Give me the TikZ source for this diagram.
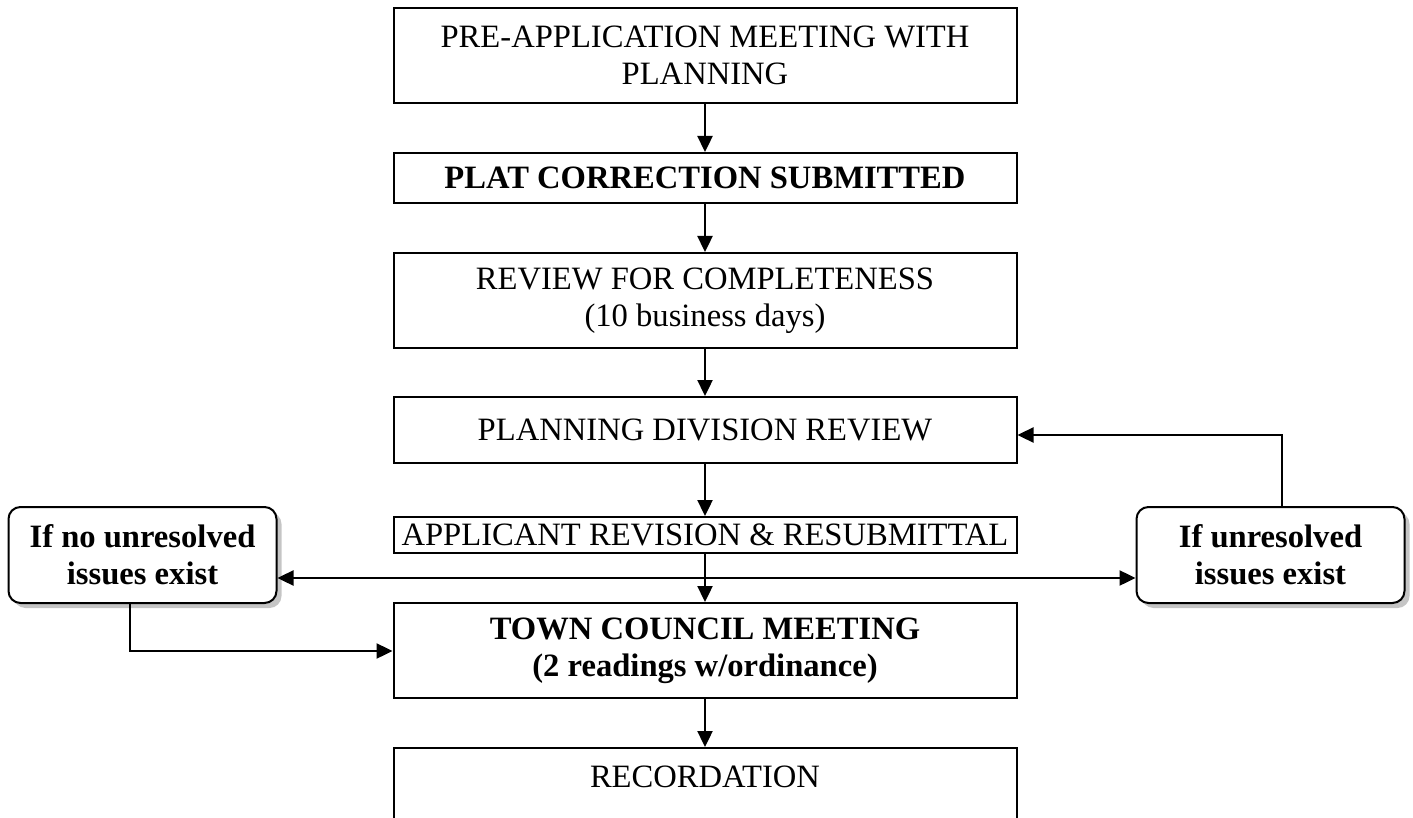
\documentclass[tikz,border=0pt]{standalone}
\usepackage{fontspec}
\setmainfont{Liberation Serif}
\usetikzlibrary{arrows.meta, shadows}

\tikzset{
    stepbox/.style={draw, line width=1pt, fill=white, inner sep=0pt,
        minimum width=311.5pt, align=center},
    sidebox/.style={draw, line width=1pt, fill=white, inner sep=0pt,
        rounded corners=6pt, minimum width=134pt, minimum height=48pt,
        align=center, font=\bfseries,
        drop shadow={shadow xshift=2.5pt, shadow yshift=-2.5pt, fill=black!45}},
    flow/.style={line width=1.2pt, -{Triangle[length=8pt,width=7.5pt]}}
}

\begin{document}
\begin{tikzpicture}[x=0.5pt, y=-0.5pt]
            \fontsize{16.3}{18.5}\selectfont
            \useasboundingbox (0,0) rectangle (1413,818);

            % main column
            \node[stepbox, minimum height=47.5pt] (preapp) at (705,55.5)
                {PRE-APPLICATION MEETING WITH\\PLANNING};
            \node[stepbox, minimum height=25pt, font=\bfseries] (plat) at (705,178)
                {PLAT CORRECTION SUBMITTED};
            \node[stepbox, minimum height=47.5pt] (complete) at (705,300.5)
                {REVIEW FOR COMPLETENESS\\(10 business days)};
            \node[stepbox, minimum height=33pt] (planning) at (705,430)
                {PLANNING DIVISION REVIEW};
            \node[stepbox, minimum height=18pt] (revision) at (705,535)
                {APPLICANT REVISION \& RESUBMITTAL};
            \node[stepbox, minimum height=47.5pt, font=\bfseries] (council) at (705,650.5)
                {TOWN COUNCIL MEETING\\(2 readings w/ordinance)};
            \node[stepbox, minimum height=47.5pt] (record) at (705,795.5)
                {RECORDATION\\\mbox{}};

            % side boxes
            \node[sidebox] (noissues) at (142.5,555) {If no unresolved\\issues exist};
            \node[sidebox] (issues) at (1270.5,555) {If unresolved\\issues exist};

            \coordinate (split) at (705,578);
            \coordinate (lturn) at (130,651);
            \coordinate (rturn) at (1282,435);

            %arrows
            \draw[flow] (preapp) -- (plat);
            \draw[flow] (plat) -- (complete);
            \draw[flow] (complete) -- (planning);
            \draw[flow] (planning) -- (revision);
            \draw[flow] (revision) -- (council);
            \draw[flow] (council) -- (record);
            \draw[flow, {Triangle[length=8pt,width=7.5pt]}-{Triangle[length=8pt,width=7.5pt]}]
                (noissues.east |- split) -- (issues.west |- split);
            \draw[flow] (noissues.south -| lturn) |- (council.west |- lturn);
            \draw[flow] (issues.north -| rturn) |- (planning.east |- rturn);
\end{tikzpicture}
\end{document}
